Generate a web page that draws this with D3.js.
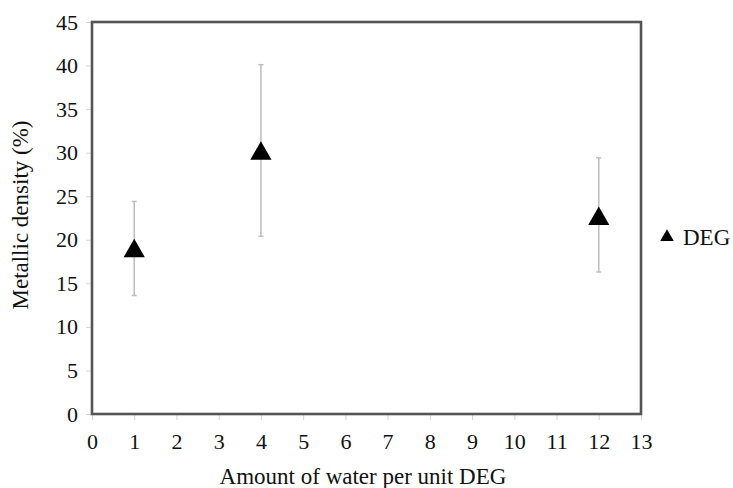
<!DOCTYPE html>
<html><head><meta charset="utf-8">
<script src="https://cdn.jsdelivr.net/npm/d3@7"></script>
<style>body{margin:0;background:#fff;}</style>
</head><body>
<svg id="c" width="733" height="488"></svg>
<script>
const xCats = [1, 4, 12];
const means = [18.7, 29.9, 22.4];
const upper = [24.4, 40.1, 29.4];
const lower = [13.6, 20.4, 16.3];
const xTicks = d3.range(0, 14);
const yTicks = d3.range(0, 46, 5);
const seriesName = "DEG";

const FONT = "Liberation Serif";
const svg = d3.select("#c");
const L = 92, R = 641, T = 22, B = 414;
const x = d3.scaleLinear().domain([0, 13]).range([L, R]);
const y = d3.scaleLinear().domain([0, 45]).range([B, T]);

const xa = svg.append("g").attr("transform", `translate(0,${B})`)
  .call(d3.axisBottom(x).tickValues(xTicks).tickSize(6).tickPadding(13).tickFormat(d3.format("d")));
const ya = svg.append("g").attr("transform", `translate(${L},0)`)
  .call(d3.axisLeft(y).tickValues(yTicks).tickSize(6).tickPadding(8).tickFormat(d3.format("d")));
[xa, ya].forEach(a => {
  a.attr("font-family", FONT).attr("font-size", 22);
  a.select(".domain").remove();
  a.selectAll(".tick line").attr("stroke", "#d4d4d4");
  a.selectAll(".tick text").attr("fill", "#111");
});

svg.append("rect").attr("x", L).attr("y", T).attr("width", R - L).attr("height", B - T)
  .attr("fill", "none").attr("stroke", "#555").attr("stroke-width", 2.6);

const eb = svg.append("g").attr("stroke", "#bdbdbd").attr("stroke-width", 1.5);
xCats.forEach((c, i) => {
  eb.append("line").attr("x1", x(c)).attr("x2", x(c)).attr("y1", y(upper[i])).attr("y2", y(lower[i]));
  [upper[i], lower[i]].forEach(v => eb.append("line").attr("x1", x(c) - 2.5).attr("x2", x(c) + 2.5)
    .attr("y1", y(v)).attr("y2", y(v)));
});

const tri = d3.symbol().type(d3.symbolTriangle).size(195);
svg.append("g").selectAll("path").data(xCats).join("path")
  .attr("d", tri).attr("fill", "#000")
  .attr("transform", (c, i) => `translate(${x(c)},${y(means[i])})`);

svg.append("path").attr("d", d3.symbol().type(d3.symbolTriangle).size(80))
  .attr("fill", "#000").attr("transform", "translate(667,237)");
svg.append("text").attr("x", 683).attr("y", 245).text(seriesName)
  .attr("font-family", FONT).attr("font-size", 23).attr("fill", "#111");

svg.append("text").attr("x", 363).attr("y", 484).attr("text-anchor", "middle")
  .attr("font-family", FONT).attr("font-size", 23).attr("fill", "#111").text("Amount of water per unit DEG");
svg.append("text").attr("transform", `translate(28,215) rotate(-90)`).attr("text-anchor", "middle")
  .attr("font-family", FONT).attr("font-size", 23).attr("fill", "#111").text("Metallic density (%)");
</script>
</body></html>
